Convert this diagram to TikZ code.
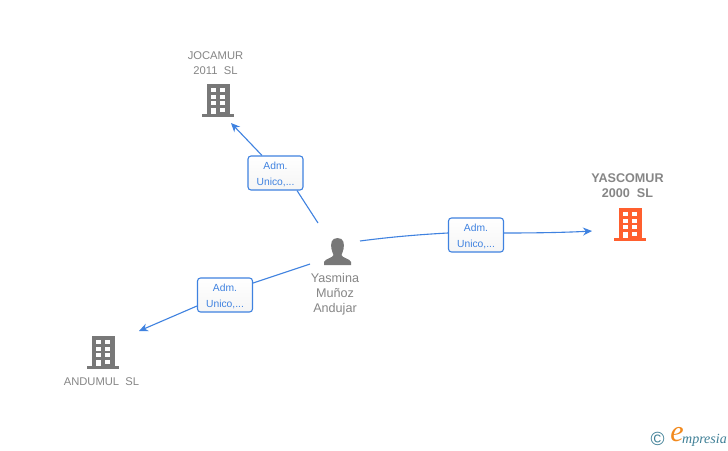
\documentclass[tikz,border=0pt]{standalone}
\usepackage{fontspec}
\setmainfont{Liberation Sans}
\newfontfamily\logofont{Liberation Serif}
\usetikzlibrary{arrows.meta}
\definecolor{linkblue}{HTML}{3F82E0}
\definecolor{iconGrey}{HTML}{787878}
\definecolor{textGrey}{HTML}{868686}
\definecolor{hot}{HTML}{FF5F2E}
\definecolor{logoTeal}{HTML}{3E7F96}
\definecolor{logoOrange}{HTML}{F28A1E}
\newcommand{\rolelabel}{\rule{0pt}{9.5pt}Adm.\\Unico,...}
\tikzset{
  x=1pt,y=-1pt,
  role/.style={draw=linkblue,line width=1.1pt,rounded corners=3pt,minimum width=55pt,minimum height=34pt,
    inner sep=0pt,top color=white,bottom color=black!4,text=linkblue,font=\fontsize{10.3}{16}\selectfont,align=center},
  link/.style={draw=linkblue,line width=1.1pt},
  tip/.style={-{Stealth[length=9pt,width=8pt]}},
  entity/.style={text=textGrey,font=\fontsize{11.2}{15}\selectfont,align=center,inner sep=0pt},
  personname/.style={text=textGrey,font=\fontsize{12.6}{15}\selectfont,align=center,inner sep=0pt},
  pics/building/.style={code={
    \fill[#1] (-11.5,-16) rectangle (11.5,14);
    \fill[#1] (-16,14) rectangle (16,17);
    \foreach \yy in {-12,-5.5,1}{
      \fill[white] (-7,\yy) rectangle (-2.2,\yy+4.4);
      \fill[white] (2.4,\yy) rectangle (7.2,\yy+4.4);
    }
    \fill[white] (-7,7.5) rectangle (-2.2,14);
    \fill[white] (2.4,7.5) rectangle (7.2,12);
  }}
}
\begin{document}
\begin{tikzpicture}
\useasboundingbox (0,0) rectangle (728,450);
\fill[white] (0,0) rectangle (728,450);

% icons
\pic at (218,100) {building=iconGrey};
\pic at (630,224) {building=hot};
\pic at (103,352) {building=iconGrey};

% person
\fill[iconGrey] (337.5,238) .. controls (331,238) and (330.5,244) .. (331.5,249)
  .. controls (332,252) and (333,253) .. (333.5,255)
  .. controls (333,258) and (325,258.5) .. (324,262) -- (324,265) -- (351,265) -- (351,262)
  .. controls (350,258.5) and (342,258) .. (341.5,255)
  .. controls (342,253) and (343,252) .. (343.5,249)
  .. controls (344.5,244) and (344,238) .. (337.5,238) -- cycle;

% labels
\node[entity] (jocamur) at (215.5,63) {JOCAMUR\\2011\ \ SL};
\node[entity,font=\fontsize{12.6}{15}\selectfont\bfseries] (yascomur) at (627.5,185.5) {YASCOMUR\\2000\ \ SL};
\node[entity] (andumul) at (101.5,382) {ANDUMUL\ \ SL};
\node[personname] (person) at (335,294.5) {Yasmina\\Muñoz\\Andujar};

% role boxes
\node[role] (r1) at (275.5,173) {\rolelabel};
\node[role] (r2) at (476,235) {\rolelabel};
\node[role] (r3) at (225,295) {\rolelabel};

% free ends
\coordinate (p1) at (318,223);
\coordinate (p2) at (360,241);
\coordinate (p3) at (310,264);
\coordinate (b1) at (231,123);
\coordinate (b2) at (592,231);
\coordinate (b3) at (139,331);

% connectors
\draw[link] (p1) -- ([xshift=21.5pt]r1.south);
\draw[link,tip] ([xshift=-13.5pt]r1.north) -- (b1);
\draw[link] (p2) .. controls (390,237) and (420,234.5) .. ([yshift=2pt]r2.west);
\draw[link,tip] ([yshift=2pt]r2.east) .. controls (535,233) and (565,232.5) .. (b2);
\draw[link] (p3) -- ([yshift=12pt]r3.east);
\draw[link,tip] ([yshift=-11pt]r3.west) -- (b3);

% logo
\node[inner sep=0pt,text=logoTeal,font=\fontsize{19}{19}\selectfont] (copy) at (657.5,438.5) {©};
\node[inner sep=0pt,text=logoOrange,font=\logofont\itshape\fontsize{30}{30}\selectfont] (logoe) at (677,435) {e};
\node[inner sep=0pt,anchor=base west,text=logoTeal,font=\logofont\itshape\fontsize{14}{14}\selectfont] (logotext) at (682,443) {mpresia};
\end{tikzpicture}
\end{document}
